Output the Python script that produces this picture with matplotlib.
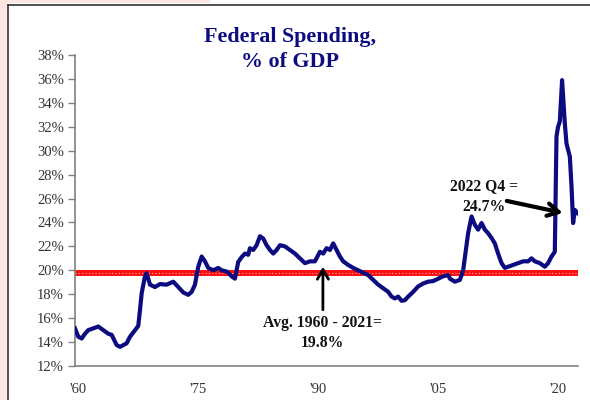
import matplotlib
matplotlib.use("Agg")
import matplotlib.pyplot as plt
from matplotlib.patches import Rectangle
from matplotlib.lines import Line2D

# quarterly-ish readings (year, % of GDP)
years = [1960.0, 1960.41, 1960.84, 1961.25, 1961.66, 1962.29, 1962.91, 1963.54,
         1964.16, 1964.59, 1965.21, 1965.63, 1966.04, 1966.46, 1966.88, 1967.5,
         1967.91, 1968.13, 1968.34, 1968.75, 1968.96, 1969.38, 1970.0, 1970.63,
         1971.46, 1972.29, 1972.91, 1973.54, 1974.16, 1974.59, 1975.0, 1975.41,
         1975.84, 1976.25, 1976.66, 1977.29, 1977.91, 1978.34, 1978.96, 1979.59,
         1980.0, 1980.41, 1980.84, 1981.25, 1981.66, 1981.88, 1982.29, 1982.71,
         1983.13, 1983.54, 1983.96, 1984.38, 1984.79, 1985.21, 1985.63, 1986.25,
         1986.88, 1987.5, 1988.13, 1988.75, 1989.38, 1990.0, 1990.63, 1991.04,
         1991.46, 1991.88, 1992.29, 1992.71, 1993.13, 1993.54, 1994.16, 1994.79,
         1995.41, 1996.04, 1996.66, 1997.29, 1997.91, 1998.54, 1999.16, 1999.59,
         2000.0, 2000.41, 2000.84, 2001.25, 2001.66, 2002.29, 2002.91, 2003.54,
         2004.16, 2004.79, 2005.41, 2006.04, 2006.66, 2006.88, 2007.5, 2008.13,
         2008.54, 2009.16, 2009.59, 2010.0, 2010.41, 2010.84, 2011.25, 2011.66,
         2012.09, 2012.5, 2012.91, 2013.34, 2013.75, 2014.16, 2014.79, 2015.41,
         2016.04, 2016.66, 2017.09, 2017.5, 2018.13, 2018.75, 2019.16, 2019.59,
         2020.0, 2020.21, 2020.41, 2020.63, 2020.91, 2021.25, 2021.46, 2021.88,
         2022.09, 2022.29, 2022.5, 2022.91]
spending = [15.15, 14.45, 14.3, 14.7, 15.0, 15.15, 15.3, 15.0,
            14.7, 14.6, 13.75, 13.6, 13.75, 13.9, 14.45, 15.0,
            15.35, 16.7, 18.1, 19.5, 19.75, 18.8, 18.6, 18.85,
            18.8, 19.05, 18.6, 18.15, 17.95, 18.2, 18.8, 20.3,
            21.15, 20.75, 20.2, 20.0, 20.2, 20.0, 19.9, 19.5,
            19.3, 20.7, 21.1, 21.4, 21.3, 21.85, 21.7, 22.1,
            22.85, 22.65, 22.1, 21.7, 21.4, 21.7, 22.1, 22.0,
            21.7, 21.4, 21.0, 20.6, 20.75, 20.75, 21.55, 21.4,
            21.85, 21.7, 22.25, 21.7, 21.15, 20.75, 20.45, 20.2,
            20.0, 19.8, 19.6, 19.2, 18.8, 18.5, 18.2, 17.8,
            17.65, 17.8, 17.45, 17.5, 17.8, 18.2, 18.65, 18.9,
            19.05, 19.1, 19.3, 19.5, 19.6, 19.3, 19.05, 19.2,
            20.0, 23.1, 24.5, 23.8, 23.4, 23.95, 23.4, 23.1,
            22.7, 22.25, 21.4, 20.6, 20.2, 20.3, 20.45, 20.6,
            20.75, 20.75, 21.0, 20.75, 20.6, 20.3, 20.6, 21.15,
            21.55, 31.2, 32.0, 32.45, 35.9, 32.3, 30.6, 29.5,
            27.0, 23.95, 25.05, 24.75]

avg_value = 19.8
yticks = list(range(12, 39, 2))
xtick_years = [1960, 1975, 1990, 2005, 2020]
xtick_labels = ["'60", "'75", "'90", "'05", "'20"]

serif = ["Liberation Serif", "DejaVu Serif"]
navy = "#0c0c80"

fig = plt.figure(figsize=(5.9, 4.0), dpi=100)
fig.patch.set_facecolor("white")

# pinkish strip and dark frame of the original slide
fig.add_artist(Rectangle((0, 0), 7 / 590, 1, transform=fig.transFigure,
                         facecolor="#fde6e1", edgecolor="none"))
fig.add_artist(Rectangle((0, 397 / 400), 210 / 590, 3 / 400, transform=fig.transFigure,
                         facecolor="#fde6e1", edgecolor="none"))
fig.add_artist(Line2D([7.5 / 590, 7.5 / 590], [0, 395 / 400], transform=fig.transFigure,
                      color="#333333", lw=1.2))
fig.add_artist(Line2D([7.5 / 590, 1], [395 / 400, 395 / 400], transform=fig.transFigure,
                      color="#333333", lw=1.2))

ax = fig.add_axes([75 / 590, 34 / 400, 503 / 590, 311 / 400])
ax.set_facecolor("white")

ax.plot(years, spending, color=navy, lw=3.0, solid_joinstyle="round", zorder=3)
ax.axhline(avg_value, color="#ff1010", lw=4.3, zorder=2)
ax.axhline(avg_value, color="#ffb0b0", lw=0.8, ls=(0, (1, 2)), zorder=2)

ax.set_xlim(1960, 2022.9)
ax.set_ylim(12, 38)
ax.set_yticks(yticks)
ax.set_yticklabels([f"{v}%" for v in yticks])
ax.set_xticks([y + 0.4 for y in xtick_years])
ax.set_xticklabels(xtick_labels)

for s in ["top", "right"]:
    ax.spines[s].set_visible(False)
for s in ["left", "bottom"]:
    ax.spines[s].set_color("#808080")
    ax.spines[s].set_linewidth(1.2)

ax.tick_params(axis="y", direction="out", length=5, width=1.0, color="#808080",
               labelsize=10.5, labelcolor="#333333", pad=3)
ax.tick_params(axis="x", length=0, labelsize=10.5, labelcolor="#333333", pad=12)
for lab in ax.get_xticklabels() + ax.get_yticklabels():
    lab.set_family(serif)

fig.text(290 / 590, 1 - 42 / 400, "Federal Spending,", ha="center", va="baseline",
         family=serif, fontweight="bold", fontsize=15.8, color=navy)
fig.text(290 / 590, 1 - 67 / 400, "% of GDP", ha="center", va="baseline",
         family=serif, fontweight="bold", fontsize=15.8, color=navy)

# average annotation
ax.annotate("", xy=(1991.0, 20.3), xytext=(1991.0, 16.7),
            arrowprops=dict(arrowstyle="->,head_length=0.7,head_width=0.4",
                            color="black", lw=2.0, shrinkA=0, shrinkB=0))
ax.text(1990.9, 16.3, "Avg. 1960 - 2021=\n19.8%", ha="center", va="top",
        family=serif, fontweight="bold", fontsize=11.3, linespacing=1.4,
        color="#111111")

# latest value annotation
ax.annotate("", xy=(2021.0, 24.8), xytext=(2014.0, 25.8),
            arrowprops=dict(arrowstyle="->,head_length=0.8,head_width=0.45",
                            color="black", lw=3.0, shrinkA=0, shrinkB=0))
ax.text(2011.1, 26.15, "2022 Q4 =\n24.7%", ha="center", va="center",
        family=serif, fontweight="bold", fontsize=11.3, linespacing=1.4,
        color="#111111")

fig.savefig("out.png", dpi=100)
